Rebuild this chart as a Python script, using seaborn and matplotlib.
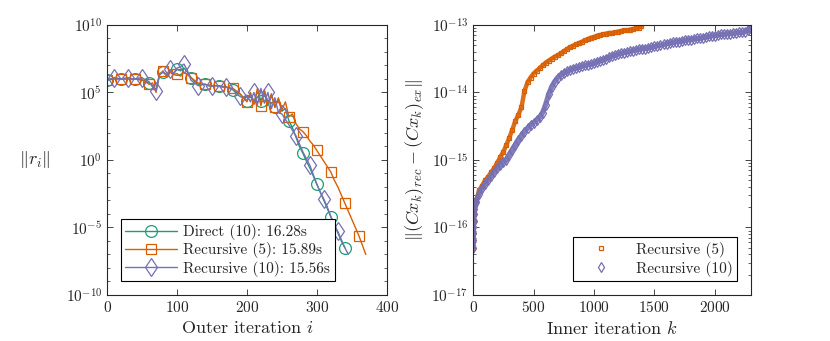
import numpy as np
import pandas as pd
import seaborn as sns
from matplotlib import pyplot as plt
from matplotlib.ticker import NullFormatter

# ---- left panel: residual norm vs outer iteration (log10 values) ----
direct_log10 = [5.9, 5.95, 6.0, 6.0, 6.0, 6.0, 6.0, 6.0, 6.0, 5.95, 5.9, 5.8, 5.7, 5.5, 5.2,
                6.4, 6.5, 6.3, 6.6, 6.4, 6.7, 6.6, 6.8, 6.5, 6.1, 5.8, 5.6, 5.6, 5.6, 5.5,
                5.5, 5.5, 5.5, 5.4, 5.4, 5.3, 5.2, 5.0, 4.9, 4.6, 4.4, 4.9, 4.2, 5.1, 4.4,
                5.0, 4.0, 4.8, 3.9, 4.5, 3.6, 3.8, 2.9, 2.4, 1.7, 1.0, 0.5, -0.1, -0.6, -1.2,
                -1.8, -2.4, -3.0, -3.6, -4.2, -4.8, -5.4, -6.0, -6.5]
rec5_log10 = [5.95, 6.0, 6.0, 6.0, 6.0, 6.0, 6.0, 6.0, 6.0, 6.0, 5.95, 5.8, 5.6, 5.7, 5.0,
              6.3, 6.6, 6.2, 6.5, 6.3, 6.4, 6.2, 6.5, 6.3, 6.1, 5.9, 5.7, 5.6, 5.6, 5.55,
              5.5, 5.5, 5.5, 5.45, 5.4, 5.35, 5.3, 5.1, 4.9, 4.6, 4.3, 5.0, 4.1, 5.3, 4.0,
              5.2, 4.2, 4.9, 3.9, 4.6, 3.7, 4.3, 3.2, 3.4, 2.7, 2.3, 2.1, 1.8, 1.4, 1.1,
              0.7, 0.3, -0.1, -0.5, -0.9, -1.5, -2.0, -2.6, -3.2, -3.8, -4.4, -5.0, -5.6,
              -6.3, -7.0]
rec10_log10 = [5.9, 6.0, 6.1, 6.05, 6.0, 6.05, 6.1, 6.0, 6.0, 6.05, 6.1, 5.9, 5.8, 5.4, 5.1,
               6.3, 6.5, 6.3, 6.7, 6.4, 6.8, 6.9, 7.1, 6.6, 5.9, 5.7, 5.5, 5.55, 5.6, 5.5,
               5.45, 5.5, 5.45, 5.4, 5.4, 5.3, 5.2, 4.9, 4.7, 4.6, 4.8, 4.3, 5.0, 4.1, 5.3,
               4.2, 5.0, 3.8, 4.6, 3.5, 3.4, 3.0, 2.6, 2.2, 1.8, 1.2, 0.6, 0.1, -0.4, -1.1,
               -1.8, -2.4, -2.9, -3.5, -4.2, -4.8, -5.3, -5.9, -6.5, -7.0]
outer_step = 5
left_labels = ["Direct (10): 16.28s", "Recursive (5): 15.89s", "Recursive (10): 15.56s"]

# ---- right panel: recomputed vs exact error vs inner iteration (log10 values) ----
k_start = [0, 1, 2, 3, 4, 6, 8, 10, 15]
start_log10 = [-16.30, -16.19, -16.08, -16.0, -15.9, -15.8, -15.72, -15.68, -15.64]
rec5_inner_log10 = [-15.60, -15.45, -15.38, -15.30, -15.25, -15.18, -15.12, -15.04, -14.96,
                    -14.88, -14.78, -14.67, -14.55, -14.42, -14.33, -14.22, -13.98, -13.85,
                    -13.78, -13.72, -13.68, -13.64, -13.60, -13.56, -13.53, -13.50, -13.47,
                    -13.45, -13.42, -13.39, -13.36, -13.33, -13.31, -13.29, -13.27, -13.25,
                    -13.23, -13.21, -13.19, -13.18, -13.16, -13.15, -13.14, -13.13, -13.12,
                    -13.12, -13.11, -13.10, -13.09, -13.08, -13.08, -13.07, -13.06, -13.05,
                    -13.04]
rec5_last = (1390, -13.02)
rec10_inner_log10 = [-15.62, -15.50, -15.42, -15.36, -15.30, -15.24, -15.18, -15.12, -15.08,
                     -15.03, -15.00, -14.92, -14.85, -14.78, -14.71, -14.64, -14.58, -14.53,
                     -14.48, -14.45, -14.41, -14.37, -14.30, -14.18, -14.03, -13.92, -13.84,
                     -13.78, -13.74, -13.71, -13.69, -13.67, -13.65, -13.64, -13.63, -13.61,
                     -13.60, -13.59, -13.58, -13.57, -13.55, -13.53, -13.52, -13.50, -13.48,
                     -13.46, -13.45, -13.43, -13.42, -13.41, -13.40, -13.39, -13.38, -13.37,
                     -13.36, -13.35, -13.35, -13.34, -13.33, -13.32, -13.31, -13.30, -13.29,
                     -13.28, -13.27, -13.26, -13.25, -13.25, -13.24, -13.23, -13.22, -13.22,
                     -13.21, -13.20, -13.20, -13.19, -13.18, -13.17, -13.16, -13.16, -13.15,
                     -13.14, -13.14, -13.13, -13.13, -13.12, -13.12, -13.11, -13.11, -13.10,
                     -13.08]
rec10_last = (2290, -13.05)
inner_step = 25
right_labels = ["Recursive (5)", "Recursive (10)"]

colors = ["#1b9e77", "#d95f02", "#7570b3"]

sns.set_style("ticks")
plt.rcParams.update({
    "font.family": "cmr10",
    "mathtext.fontset": "cm",
    "axes.formatter.use_mathtext": True,
    "axes.unicode_minus": False,
    "font.size": 11,
    "xtick.direction": "in",
    "ytick.direction": "in",
    "xtick.top": True,
    "ytick.right": True,
    "axes.linewidth": 0.8,
})

fig = plt.figure(figsize=(8.3, 3.41), dpi=100)
ax1 = fig.add_axes([0.129, 0.135, 0.337, 0.792])
ax2 = fig.add_axes([0.570, 0.135, 0.335, 0.792])

# left panel
series = [
    (direct_log10, "o", 8.5, (0, 4)),
    (rec5_log10, "s", 7.5, (0, 4)),
    (rec10_log10, "d", 9.5, (2, 4)),
]
for (vals, mk, ms, every), lab, c in zip(series, left_labels, colors):
    it = np.arange(len(vals)) * outer_step
    df = pd.DataFrame({"it": it, "r": 10.0 ** np.array(vals)})
    sns.lineplot(data=df, x="it", y="r", ax=ax1, color=c, lw=1.0, marker=mk, ms=ms,
                 mfc="none", mec=c, mew=0.9, markevery=every, estimator=None,
                 sort=False, label=lab)

ax1.set_yscale("log")
ax1.set_xlim(0, 400)
ax1.set_ylim(1e-10, 1e10)
ax1.set_xticks([0, 100, 200, 300, 400])
ax1.set_yticks([1e-10, 1e-5, 1e0, 1e5, 1e10])
ax1.set_yticks(10.0 ** np.arange(-10, 11), minor=True)
ax1.yaxis.set_minor_formatter(NullFormatter())
ax1.set_xlabel("Outer iteration $i$", fontsize=13)
ax1.set_ylabel(r"$\|r_i\|$", fontsize=13, rotation=0, labelpad=22, va="center")
leg1 = ax1.legend(loc="lower left", handlelength=3.4, fontsize=11, fancybox=False,
                  edgecolor="black", framealpha=1, borderaxespad=0.9, borderpad=0.3,
                  labelspacing=0.15, handletextpad=0.4)
leg1.get_frame().set_linewidth(0.8)

# right panel: dense point clouds drawn as a thick band plus hollow markers
markers = [("s", 2.8, 0.9, 3.2), ("d", 5.5, 0.9, 3.8)]
inner = [(rec5_inner_log10, rec5_last), (rec10_inner_log10, rec10_last)]
for (vals, last), (mk, ms, mw, band), lab, c in zip(inner, markers, right_labels, colors[1:]):
    k = k_start + list(np.arange(1, len(vals) + 1) * inner_step) + [last[0]]
    e = start_log10 + vals + [last[1]]
    df = pd.DataFrame({"k": k, "err": 10.0 ** np.array(e)})
    sns.lineplot(data=df, x="k", y="err", ax=ax2, color=c, lw=band, alpha=0.9,
                 estimator=None, sort=False, label="_nolegend_")
    sns.lineplot(data=df, x="k", y="err", ax=ax2, color=c, linestyle="none", marker=mk,
                 ms=ms, mfc="none", mec=c, mew=mw, estimator=None, sort=False, label=lab)

ax2.set_yscale("log")
ax2.set_xlim(0, 2300)
ax2.set_ylim(1e-17, 1e-13)
ax2.set_xticks([0, 500, 1000, 1500, 2000])
ax2.set_yticks([1e-17, 1e-16, 1e-15, 1e-14, 1e-13])
ax2.yaxis.set_minor_formatter(NullFormatter())
ax2.set_xlabel("Inner iteration $k$", fontsize=13)
ax2.set_ylabel(r"$\|(Cx_k)_{rec} - (Cx_k)_{ex}\|$", fontsize=13)
leg2 = ax2.legend(loc="lower right", handlelength=3.0, fontsize=11, fancybox=False,
                  edgecolor="black", framealpha=1, borderaxespad=0.9, borderpad=0.3,
                  labelspacing=0.2, handletextpad=0.8)
leg2.get_frame().set_linewidth(0.8)

for ax in (ax1, ax2):
    ax.tick_params(which="both", top=True, right=True, direction="in")
    ax.tick_params(which="major", length=4, width=0.6)
    ax.tick_params(which="minor", length=2, width=0.5)

fig.savefig("out.png", dpi=100)
